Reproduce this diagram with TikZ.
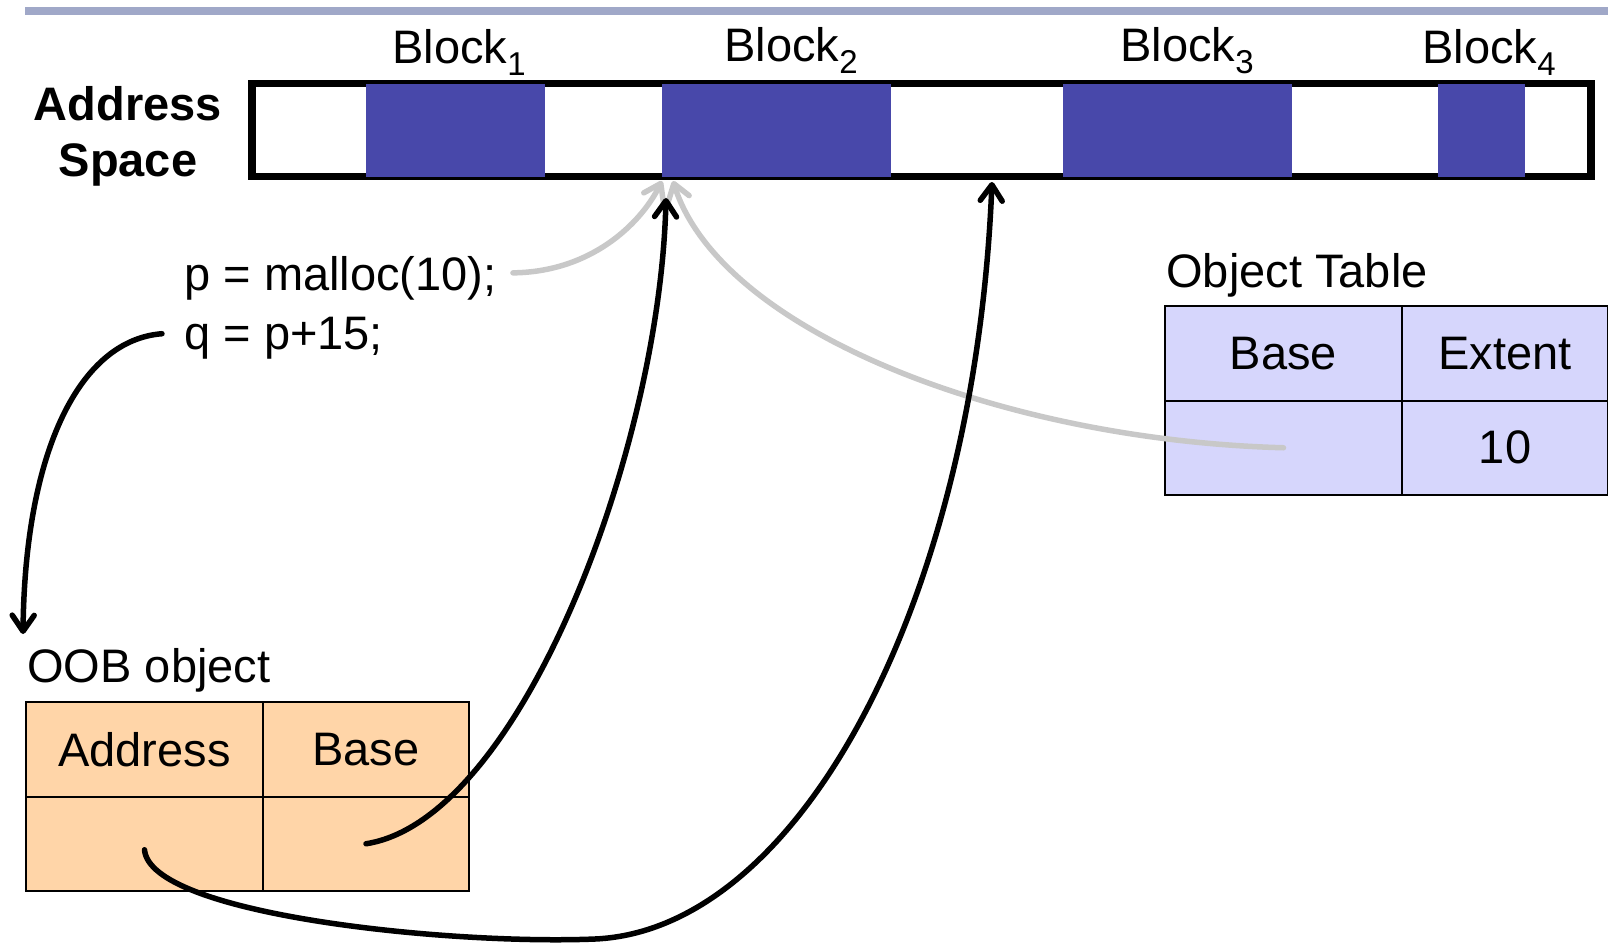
\documentclass[tikz,border=0pt]{standalone}
\usepackage{fontspec}
\setmainfont{Liberation Sans}
\usetikzlibrary{arrows.meta}
\definecolor{bandcol}{HTML}{A0A8C8}
\definecolor{blockcol}{HTML}{4848AA}
\definecolor{tabblue}{HTML}{D6D6FC}
\definecolor{tabpeach}{HTML}{FFD5A8}
\definecolor{linkgray}{HTML}{C8C8C8}
% block label with a lowered index
\newcommand{\blocklabel}[1]{Block\raisebox{-6pt}{\fontsize{16.5pt}{18pt}\selectfont #1}}
\begin{document}
\begin{tikzpicture}[x=0.5pt,y=-0.5pt,
  lbl/.style={inner sep=0pt, font=\fontsize{23.5pt}{28pt}\selectfont},
  cell/.style={draw=black, line width=1pt, inner sep=0pt, anchor=north west,
    minimum height=47.25pt, font=\fontsize{23.5pt}{28pt}\selectfont},
  widecell/.style={cell, minimum width=118.5pt},
  narrowcell/.style={cell, minimum width=103pt},
  link/.style={line width=2.75pt, line cap=round,
    -{Straight Barb[length=8pt,width=11pt,round]}},
  blacklink/.style={link, draw=black},
  graylink/.style={link, draw=linkgray}]
\useasboundingbox (0,0) rectangle (1608,944);

% title rule
\fill[bandcol] (25,7) rectangle (1608,15);

% address space with its four blocks
\draw[line width=3.75pt] (252,83.5) rectangle (1591,176.5);
\fill[blockcol] (366,83.5) rectangle (545,176.5);
\fill[blockcol] (662,83.5) rectangle (891,176.5);
\fill[blockcol] (1063,83.5) rectangle (1292,176.5);
\fill[blockcol] (1438,83.5) rectangle (1525,176.5);

\coordinate (b2left) at (662,181);
\coordinate (b2leftb) at (673,181);
\coordinate (b2ptr) at (666,198);
\coordinate (gapptr) at (992,182);

\node[lbl, anchor=base west] (blk1) at (392,63) {\blocklabel{1}};
\node[lbl, anchor=base west] (blk2) at (724,61) {\blocklabel{2}};
\node[lbl, anchor=base west] (blk3) at (1120,61) {\blocklabel{3}};
\node[lbl, anchor=base west] (blk4) at (1422,63) {\blocklabel{4}};

\node[lbl, font=\fontsize{23.5pt}{28pt}\selectfont\bfseries, anchor=base]
  (aslabel) at (128,120) {\begin{tabular}[t]{@{}c@{}}Address\\Space\end{tabular}};

% code
\node[lbl, anchor=base west] (malloc) at (184,290) {p = malloc(10);};
\node[lbl, anchor=base west] (qline) at (184,349) {q = p+15;};

% object table
\node[lbl, anchor=base west] (ottitle) at (1166,287) {Object Table};
\node[widecell, fill=tabblue] (othbase) at (1164,305) {Base};
\node[narrowcell, fill=tabblue] (othext) at (1401,305) {Extent};
\node[widecell, fill=tabblue] (otbase) at (1164,399.5) {};
\node[narrowcell, fill=tabblue] (otext) at (1401,399.5) {10};

% OOB object
\node[lbl, anchor=base west] (oobtitle) at (27,682) {OOB object};
\node[widecell, fill=tabpeach] (oobhaddr) at (25,701) {Address};
\node[narrowcell, fill=tabpeach] (oobhbase) at (262,701) {Base};
\node[widecell, fill=tabpeach] (oobaddr) at (25,795.5) {};
\node[narrowcell, fill=tabpeach] (oobbase) at (262,795.5) {};

% pointers
\draw[graylink] ([xshift=8pt,yshift=2.5pt]malloc.east)
  .. controls (590,272) and (640,225) .. (b2left);
\draw[graylink] (otbase.center)
  .. controls (1000,440) and (720,330) .. (b2leftb);
\draw[blacklink] ([xshift=-11pt,yshift=2pt]qline.west)
  .. controls (80,340) and (25,450) .. (23,634);
\draw[blacklink] (oobbase.center)
  .. controls (520,820) and (660,450) .. (b2ptr);
\draw[blacklink] ([yshift=-3pt]oobaddr.center)
  .. controls (150,915) and (450,945) .. (595,939)
  .. controls (800,930) and (975,600) .. (gapptr);
\end{tikzpicture}
\end{document}
